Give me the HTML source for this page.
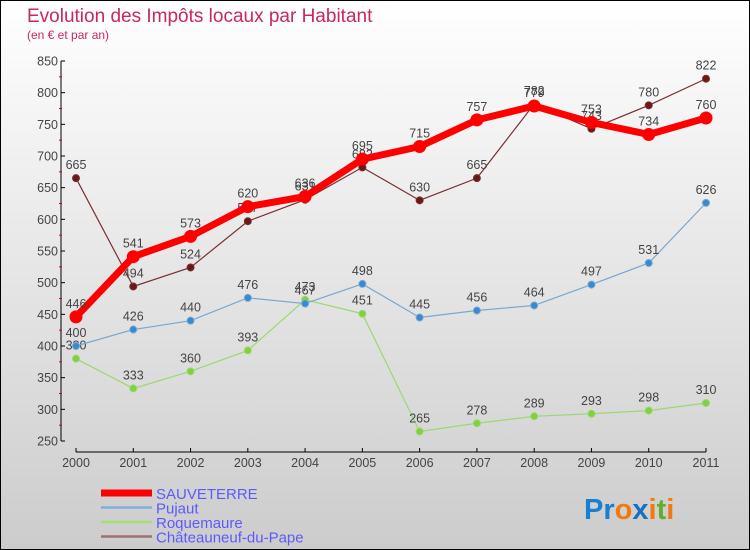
<!DOCTYPE html>
<html><head><meta charset="utf-8"><style>
body{margin:0}
#c{width:748px;height:548px;border:1px solid #000;background:linear-gradient(#fff,#ccc);position:relative;font-family:"Liberation Sans",sans-serif}
</style></head><body>
<div id="c">
<svg id="s" width="748" height="548" style="position:absolute;left:0;top:0" font-family="Liberation Sans, sans-serif">
<text x="26" y="21" font-size="19" fill="#c8285a">Evolution des Impôts locaux par Habitant</text>
<text x="26" y="38" font-size="12" fill="#c8285a">(en € et par an)</text>
<g id="g"></g>
<text x="583" y="518" font-size="29" font-weight="bold" fill="#1a7fd0">Pr<tspan fill="#f07a10">o</tspan><tspan fill="#1a70c0">x</tspan><tspan fill="#f07a10">i</tspan><tspan fill="#60b030">t</tspan><tspan fill="#f07a10">i</tspan></text>
</svg></div>
<script>
const years=["2000","2001","2002","2003","2004","2005","2006","2007","2008","2009","2010","2011"];
const yTicks=[250,300,350,400,450,500,550,600,650,700,750,800,850];
const sauveterre=[446,541,573,620,636,695,715,757,779,753,734,760];
const pujaut=[400,426,440,476,467,498,445,456,464,497,531,626];
const roquemaure=[380,333,360,393,473,451,265,278,289,293,298,310];
const chateauneuf=[665,494,524,597,631,682,630,665,782,743,780,822];
const names=["SAUVETERRE","Pujaut","Roquemaure","Châteauneuf-du-Pape"];
const NS="http://www.w3.org/2000/svg";
const g=document.getElementById('g');
const X=i=>75+i*(630/11);
const Y=v=>440-(v-250)*(380/600);
function el(t,a,p){const e=document.createElementNS(NS,t);for(const k in a)e.setAttribute(k,a[k]);(p||g).appendChild(e);return e;}
const ya=el('line',{x1:60,y1:60,x2:60,y2:440,stroke:'#000'});


yTicks.forEach((v,i)=>{
 el('line',{x1:60,y1:Y(v),x2:64,y2:Y(v),stroke:'#000'});
 if(i<yTicks.length-1)el('line',{x1:58,y1:Y(v+25),x2:61,y2:Y(v+25),stroke:'#d00'});
 const t=el('text',{x:57,y:Y(v)+4.5,'font-size':12.5,fill:'#444','text-anchor':'end'});t.textContent=v;
 
 
});
const xa=el('line',{x1:75,y1:451,x2:705,y2:451,stroke:'#000'});


years.forEach((y,i)=>{
 el('line',{x1:X(i),y1:447,x2:X(i),y2:451,stroke:'#000'});
 const t=el('text',{x:X(i),y:466,'font-size':12.5,fill:'#444','text-anchor':'middle'});t.textContent=y;
 
 
});
function series(d,col,dot,w,r,nm){
 const p=el('polyline',{points:d.map((v,i)=>X(i)+','+Y(v)).join(' '),fill:'none',stroke:col,'stroke-width':w});
 
 
 d.forEach((v,i)=>{
  const c=el('circle',{cx:X(i),cy:Y(v),r:r,fill:dot,stroke:col,'stroke-width':1});
  
  
  const t=el('text',{x:X(i),y:Y(v)-9,'font-size':12.5,fill:'#444','text-anchor':'middle'});t.textContent=v;
  
  
 });
}
series(roquemaure,'#9cd870','#80d040',1.2,3.5,'roquemaure');
series(pujaut,'#78a8d0','#3a88d0',1.2,3.5,'pujaut');
series(chateauneuf,'#7a3030','#6a1818',1.2,3.5,'chateauneuf');
series(sauveterre,'#f00','#f00',7,6,'sauveterre');
const lc=['#f00','#80b0d8','#a0e070','#a07070'];
names.forEach((n,i)=>{
 const y=492+i*14.5;
 const l=el('line',{x1:100,y1:y,x2:151,y2:y,stroke:lc[i],'stroke-width':i==0?7:2.5});
 
 
 const t=el('text',{x:155,y:y+6,'font-size':15,fill:'#5a5aff'});t.textContent=n;
 
 
});
</script>
</body></html>
